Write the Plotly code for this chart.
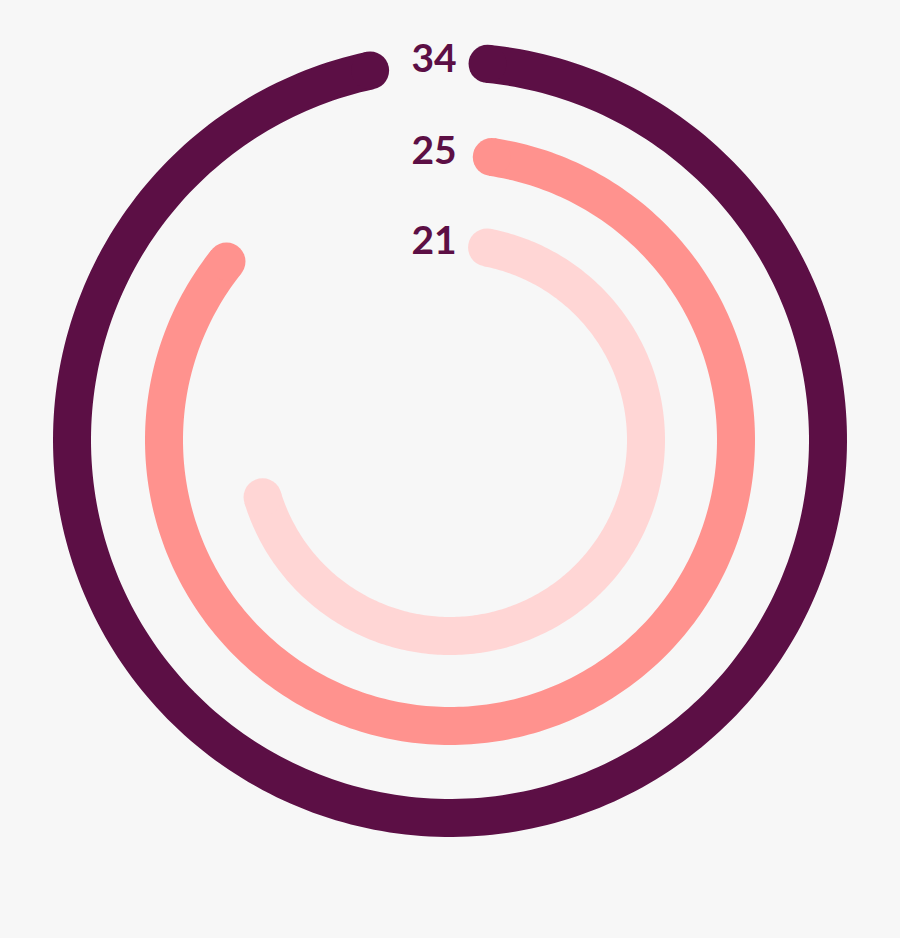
import numpy as np
import plotly.graph_objects as go

# data
labels = ["34", "25", "21"]
values = [34, 25, 21]
start_deg = [5.7, 8.4, 10.9]      # arc start angle (clockwise from top)
end_deg = [347.8, 308.6, 253.0]   # arc end angle
colors = ["#5C0F45", "#FF928E", "#FFD6D5"]

ring_r = [378, 286, 196]   # ring radius (px-scaled radial axis)
R_MAX = 420
W = 38

fig = go.Figure()
for lab, v, s, e, c, r in zip(labels, values, start_deg, end_deg, colors, ring_r):
    th = np.linspace(s, e, 300)
    fig.add_trace(go.Scatterpolar(
        r=[r] * len(th), theta=th, mode="lines",
        line=dict(color=c, width=W), hoverinfo="skip", showlegend=False))
    fig.add_trace(go.Scatterpolar(
        r=[r, r], theta=[s, e], mode="markers",
        marker=dict(color=c, size=W, line=dict(width=0)),
        hoverinfo="skip", showlegend=False))
    fig.add_trace(go.Scatterpolar(
        r=[r], theta=[-np.degrees(np.arcsin(16 / r))], mode="text",
        text=[lab], textposition="middle center",
        textfont=dict(family="Lato", size=39, color="#5C0F45", weight="bold"),
        hoverinfo="skip", showlegend=False))

cy = 1 - 440 / 938
hw = R_MAX / 900
hh = R_MAX / 938
fig.update_layout(
    width=900, height=938,
    margin=dict(l=0, r=0, t=0, b=0),
    paper_bgcolor="#F7F7F7",
    plot_bgcolor="#F7F7F7",
    polar=dict(
        domain=dict(x=[0.5 - hw, 0.5 + hw], y=[cy - hh, cy + hh]),
        bgcolor="rgba(0,0,0,0)",
        radialaxis=dict(range=[0, R_MAX], visible=False, showgrid=False),
        angularaxis=dict(rotation=90, direction="clockwise", visible=False,
                         showgrid=False, showline=False, showticklabels=False,
                         ticks=""),
    ),
)
fig.write_html("out.html", config={"displayModeBar": False})

with open("out.html", encoding="utf-8") as f:
    html = f.read()
html = html.replace("<head>", "<head><style>html,body{margin:0;padding:0;overflow:hidden;background:#F7F7F7;}</style>", 1)
with open("out.html", "w", encoding="utf-8") as f:
    f.write(html)
